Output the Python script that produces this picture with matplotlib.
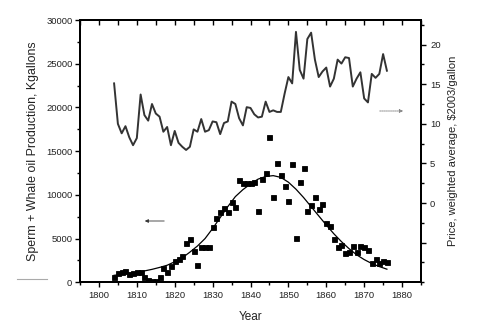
import matplotlib
matplotlib.use("Agg")
import matplotlib.pyplot as plt
from matplotlib.patches import FancyArrowPatch
from matplotlib.lines import Line2D
from matplotlib.ticker import MultipleLocator, FuncFormatter

plt.rcParams['font.family'] = ['Liberation Sans', 'DejaVu Sans']

# ---- data ----
price_years = list(range(1804, 1877))
price = [15.1, 10.0, 8.8, 9.7, 8.3, 7.3, 8.2, 13.7, 11.1, 10.4,
         12.5, 11.3, 10.9, 9.0, 9.6, 7.3, 9.1, 7.6, 7.1, 6.7,
         7.1, 9.3, 9.0, 10.6, 9.0, 9.2, 10.3, 10.2, 8.7, 10.1,
         10.3, 12.8, 12.5, 10.7, 9.8, 12.1, 12.0, 11.2, 10.8, 10.9,
         12.8, 11.5, 11.7, 11.5, 11.5, 13.8, 15.9, 15.1, 21.6, 16.8,
         15.7, 20.7, 21.5, 18.1, 15.9, 16.6, 17.1, 14.7, 15.7, 18.1,
         17.6, 18.4, 18.3, 14.7, 15.7, 16.5, 13.2, 12.7, 16.3, 15.8,
         16.3, 18.8, 16.7]

prod_years = list(range(1804, 1877))
production = [550, 1030, 1210, 1330, 950, 1100, 1210, 1210, 570, 300,
              200, 200, 570, 1600, 1210, 1860, 2470, 2630, 3010, 4530,
              4920, 3620, 1980, 4070, 4070, 4070, 6290, 7320, 8080, 8530,
              8080, 9150, 8580, 11700, 11330, 11400, 11390, 11510, 8190, 11780,
              12540, 16590, 9790, 13680, 12280, 11020, 9300, 13500, 5100, 11510,
              13040, 8160, 8840, 9800, 8350, 8960, 6820, 6440, 4920, 4000,
              4270, 3390, 3430, 4150, 3500, 4150, 4070, 3700, 2240, 2630,
              2170, 2440, 2360]

fit_years = list(range(1804, 1877, 2))
fit_values = [800, 900, 1020, 1150, 1300, 1480, 1700, 1950, 2350, 2800,
              3450, 4150, 5000, 6150, 7400, 8650, 9800, 10600, 11250, 11800,
              12100, 12200, 12000, 11450, 10650, 9700, 8650, 7600, 6550, 5550,
              4650, 3850, 3150, 2600, 2150, 1800, 1500]

x_ticks = [1800, 1810, 1820, 1830, 1840, 1850, 1860, 1870, 1880]
left_ticks = [0, 5000, 10000, 15000, 20000, 25000, 30000]
right_ticks = [-5, 0, 5, 10, 15, 20]

xlabel = "Year"
ylabel_left = "Sperm + Whale oil Production, Kgallons"
ylabel_right = "Price, weighted average, $2003/gallon"

# ---- figure ----
W, H = 480, 331
fig = plt.figure(figsize=(W / 100, H / 100), dpi=100)
fig.patch.set_facecolor('white')
ax = fig.add_axes([80 / W, 1 - 282.3 / H, (421 - 80) / W, (282.3 - 20) / H])
ax2 = ax.twinx()
ax3 = ax.twiny()

txt = '#222222'

# production scatter + fit
ax.plot(prod_years, production, linestyle='none', marker='s', markersize=3.6,
        markeredgewidth=0.6, color='black', zorder=3)
ax.plot(fit_years, fit_values, color='black', linewidth=0.9, zorder=2)

# price line
ax2.plot(price_years, price, color='#333333', linewidth=1.4)

ax.set_xlim(1795, 1885)
ax3.set_xlim(1795, 1885)
ax.set_ylim(0, 30000)
ax2.set_ylim(-10, 23.1)

ax.set_xticks(x_ticks)
ax.xaxis.set_minor_locator(MultipleLocator(5))
ax3.set_xticks(x_ticks)
ax3.xaxis.set_minor_locator(MultipleLocator(5))
ax.set_yticks(left_ticks)
ax.yaxis.set_minor_locator(MultipleLocator(2500))
ax2.set_yticks(right_ticks)
ax2.yaxis.set_minor_locator(MultipleLocator(2.5))
ax2.yaxis.set_major_formatter(FuncFormatter(lambda v, p: '' if v < 0 else f'{v:g}'))

for a in (ax, ax2, ax3):
    for s in a.spines.values():
        s.set_linewidth(1.3)
        s.set_color('black')

ax.tick_params(axis='x', which='both', direction='out', top=False, labelsize=6.8,
               labelcolor=txt, width=1.0, pad=3)
ax.tick_params(axis='x', which='major', length=3.5)
ax.tick_params(axis='x', which='minor', length=2.5)
ax3.tick_params(axis='x', which='both', direction='in', labeltop=False,
                width=1.0, length=3.5)
ax.tick_params(axis='y', which='both', direction='out', labelsize=6.8,
               labelcolor=txt, width=1.0, pad=2)
ax.tick_params(axis='y', which='major', length=3.5)
ax.tick_params(axis='y', which='minor', length=2.5)
ax2.tick_params(axis='y', which='both', direction='out', labelsize=6.8,
                labelcolor=txt, width=1.0, pad=3)
ax2.tick_params(axis='y', which='major', length=3.5)
ax2.tick_params(axis='y', which='minor', length=2.5)

ax.set_xlabel(xlabel, fontsize=8.5, color=txt, labelpad=8)
ax.set_ylabel(ylabel_left, fontsize=8.9, color=txt, labelpad=5)
ax2.set_ylabel(ylabel_right, fontsize=8, color=txt, labelpad=5)

# arrows
fig.add_artist(FancyArrowPatch((167 / W, 1 - 221 / H), (142 / W, 1 - 221 / H),
                               transform=fig.transFigure, arrowstyle='-|>',
                               mutation_scale=5, color='#333333', linewidth=0.6))
fig.add_artist(FancyArrowPatch((377 / W, 1 - 111 / H), (406 / W, 1 - 111 / H),
                               transform=fig.transFigure, arrowstyle='-|>',
                               mutation_scale=5, color='#888888', linewidth=0.7,
                               linestyle=(0, (1, 1))))
fig.add_artist(Line2D([17 / W, 47 / W], [1 - 279 / H, 1 - 279 / H],
                      transform=fig.transFigure, color='#aaaaaa', linewidth=0.8))

fig.savefig('out.png', dpi=100)
